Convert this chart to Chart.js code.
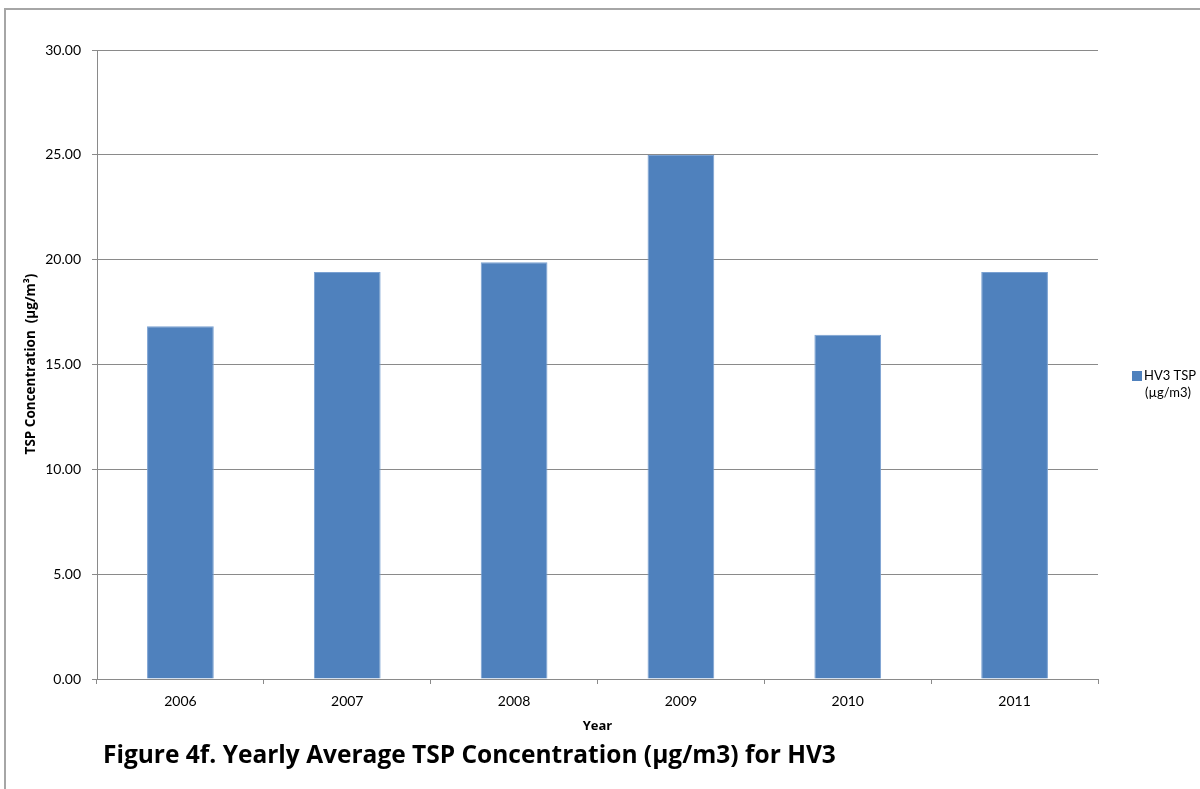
<!DOCTYPE html>
<html>
<head>
<meta charset="utf-8">
<script src="https://cdn.jsdelivr.net/npm/chart.js@4.4.1/dist/chart.umd.min.js"></script>
<style>
  html, body { margin: 0; padding: 0; background: #ffffff; }
  #wrap { width: 1200px; height: 789px; position: relative; }
</style>
</head>
<body>
<div id="wrap"><canvas id="chart" width="1200" height="789"></canvas></div>
<script>
// Yearly average TSP concentration at station HV3
const years = ['2006', '2007', '2008', '2009', '2010', '2011'];
const tspValues = [16.82, 19.41, 19.88, 24.99, 16.42, 19.41];
const seriesName = ['HV3 TSP', '(\u00b5g/m3)'];
const yAxisTitle = 'TSP Concentration  (\u00b5g/m\u00b3)';
const xAxisTitle = 'Year';
const figureTitle = 'Figure 4f. Yearly Average TSP Concentration (\u00b5g/m3) for HV3';
const yMin = 0, yMax = 30, yStep = 5;

const FONT = 'Lato, "Open Sans", "Liberation Sans", sans-serif';
const TITLE_FONT = '"Open Sans", Lato, "Liberation Sans", sans-serif';
const GRID = '#8a8a8a';
const BAR_FILL = '#4f81bd';
const BAR_EDGE = '#7aa1d2';

// Frame, axis titles, side legend and figure caption
const decorations = {
  id: 'decorations',
  beforeDraw(chart) {
    const ctx = chart.ctx;
    ctx.save();
    ctx.fillStyle = '#ffffff';
    ctx.fillRect(0, 0, chart.width, chart.height);
    ctx.strokeStyle = '#a6a6a6';
    ctx.lineWidth = 2;
    ctx.strokeRect(5, 9, chart.width + 20, chart.height + 20);
    ctx.restore();
  },
  afterDraw(chart) {
    const ctx = chart.ctx;
    const area = chart.chartArea;
    ctx.save();
    ctx.fillStyle = '#000000';

    // y axis title
    ctx.save();
    ctx.translate(31, 364);
    ctx.rotate(-Math.PI / 2);
    ctx.font = 'bold 13.5px ' + TITLE_FONT;
    ctx.textAlign = 'center';
    ctx.textBaseline = 'middle';
    ctx.fillText(yAxisTitle, 0, 0);
    ctx.restore();

    // x axis title
    ctx.font = 'bold 13px ' + TITLE_FONT;
    ctx.textAlign = 'center';
    ctx.textBaseline = 'middle';
    ctx.fillText(xAxisTitle, (area.left + area.right) / 2, 726);

    // legend
    const ds = chart.data.datasets[0];
    ctx.fillStyle = ds.backgroundColor;
    ctx.fillRect(1132, 371, 10, 10);
    ctx.fillStyle = '#000000';
    ctx.font = '13px ' + FONT;
    ctx.textAlign = 'left';
    ctx.fillText(seriesName[0], 1144, 376);
    ctx.fillText(seriesName[1], 1145, 393);

    // figure caption
    ctx.font = 'bold 24.5px ' + TITLE_FONT;
    ctx.textAlign = 'left';
    ctx.textBaseline = 'alphabetic';
    ctx.fillText(figureTitle, 103, 763);
    ctx.restore();
  }
};

new Chart(document.getElementById('chart'), {
  type: 'bar',
  data: {
    labels: years,
    datasets: [{
      label: seriesName.join(' '),
      data: tspValues,
      backgroundColor: BAR_FILL,
      borderColor: BAR_EDGE,
      borderWidth: 1,
      categoryPercentage: 1.0,
      barPercentage: 0.4
    }]
  },
  options: {
    responsive: false,
    animation: false,
    devicePixelRatio: 1,
    layout: { padding: { top: 50, right: 102, bottom: 0, left: 0 } },
    plugins: {
      legend: { display: false },
      title: { display: false },
      tooltip: { enabled: false }
    },
    scales: {
      x: {
        grid: {
          offset: true,
          drawOnChartArea: false,
          tickLength: 5,
          color: GRID
        },
        border: { display: true, color: GRID, width: 1 },
        ticks: {
          color: '#000000',
          font: { family: FONT, size: 14 },
          padding: 9,
          maxRotation: 0
        },
        afterFit(scale) { scale.height = 110; }
      },
      y: {
        min: yMin,
        max: yMax,
        grid: {
          color: GRID,
          tickLength: 5,
          drawTicks: true
        },
        border: { display: true, color: GRID, width: 1 },
        ticks: {
          stepSize: yStep,
          color: '#000000',
          font: { family: FONT, size: 14 },
          padding: 11,
          callback: (v) => Number(v).toFixed(2)
        },
        afterFit(scale) { scale.width = 97; }
      }
    }
  },
  plugins: [decorations]
});
</script>
</body>
</html>
